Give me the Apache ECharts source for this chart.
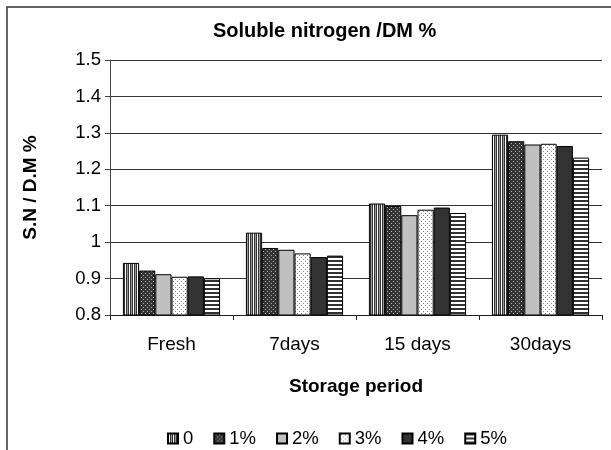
<!DOCTYPE html>
<html>
<head>
<meta charset="utf-8">
<script src="https://cdn.jsdelivr.net/npm/echarts@6/dist/echarts.min.js"></script>
<style>
  html, body { margin: 0; padding: 0; background: #fff; }
  #chart { width: 611px; height: 450px; }
</style>
</head>
<body>
<div id="chart"></div>
<script>
// Storage periods on the x axis
const categories = ['Fresh', '7days', '15 days', '30days'];
// Treatment levels (legend entries)
const seriesNames = ['0', '1%', '2%', '3%', '4%', '5%'];
// Soluble nitrogen / DM % for each treatment across the storage periods
const s0  = [0.943, 1.026, 1.106, 1.295];
const s1  = [0.922, 0.984, 1.099, 1.277];
const s2  = [0.912, 0.979, 1.074, 1.268];
const s3  = [0.905, 0.969, 1.089, 1.270];
const s4  = [0.906, 0.959, 1.095, 1.264];
const s5  = [0.901, 0.963, 1.080, 1.232];
const seriesValues = [s0, s1, s2, s3, s4, s5];
// Y axis scale
const yMin = 0.8, yMax = 1.5, yStep = 0.1;

// Fill patterns drawn on small canvases
function makePattern(kind) {
  const c = document.createElement('canvas');
  c.width = 4; c.height = 4;
  const g = c.getContext('2d');
  if (kind === 'vstripe') {
    g.fillStyle = '#ffffff'; g.fillRect(0, 0, 4, 4);
    g.fillStyle = '#333333'; g.fillRect(0, 0, 1, 4); g.fillRect(2, 0, 1, 4);
    g.fillStyle = '#999999'; g.fillRect(3, 0, 1, 4);
  } else if (kind === 'darkdots') {
    g.fillStyle = '#333333'; g.fillRect(0, 0, 4, 4);
    g.fillStyle = '#bbbbbb'; g.fillRect(1, 1, 1, 1); g.fillRect(3, 3, 1, 1);
  } else if (kind === 'gray') {
    g.fillStyle = '#c0c0c0'; g.fillRect(0, 0, 4, 4);
  } else if (kind === 'lightdots') {
    g.fillStyle = '#ffffff'; g.fillRect(0, 0, 4, 4);
    g.fillStyle = '#888888'; g.fillRect(1, 1, 1, 1); g.fillRect(3, 3, 1, 1);
  } else if (kind === 'dark') {
    g.fillStyle = '#333333'; g.fillRect(0, 0, 4, 4);
  } else if (kind === 'hstripe') {
    g.fillStyle = '#ffffff'; g.fillRect(0, 0, 4, 4);
    g.fillStyle = '#333333'; g.fillRect(0, 0, 4, 2);
  }
  return { image: c, repeat: 'repeat' };
}
const patternKinds = ['vstripe', 'darkdots', 'gray', 'lightdots', 'dark', 'hstripe'];

const font = 'Liberation Sans, Arial, sans-serif';

const chart = echarts.init(document.getElementById('chart'), null, { renderer: 'canvas' });

chart.setOption({
  backgroundColor: '#ffffff',
  animation: false,
  textStyle: { fontFamily: font },
  title: {
    text: 'Soluble nitrogen /DM %',
    left: 208,
    top: 16,
    textStyle: { fontFamily: font, fontSize: 20, fontWeight: 'bold', color: '#000' }
  },
  legend: {
    data: seriesNames,
    top: 424,
    left: 162,
    icon: 'rect',
    itemWidth: 10,
    itemHeight: 10,
    itemGap: 20,
    textStyle: { fontFamily: font, fontSize: 18.5, color: '#000' }
  },
  grid: { left: 110, right: 9, top: 60, bottom: 135 },
  xAxis: {
    type: 'category',
    data: categories,
    name: 'Storage period',
    nameLocation: 'middle',
    nameGap: 62,
    nameTextStyle: { fontFamily: font, fontSize: 19, fontWeight: 'bold', color: '#000' },
    axisLine: { lineStyle: { color: '#222', width: 1 } },
    axisTick: { show: true, length: 5, lineStyle: { color: '#222' } },
    axisLabel: { margin: 20, fontFamily: font, fontSize: 19, color: '#000' }
  },
  yAxis: {
    type: 'value',
    min: yMin,
    max: yMax,
    interval: yStep,
    name: 'S.N / D.M %',
    nameLocation: 'middle',
    nameGap: 70,
    nameTextStyle: { fontFamily: font, fontSize: 19, fontWeight: 'bold', color: '#000' },
    axisLine: { show: true, lineStyle: { color: '#444', width: 1 } },
    axisTick: { show: true, length: 5, lineStyle: { color: '#444' } },
    axisLabel: {
      margin: 9, fontFamily: font, fontSize: 18.5, color: '#000',
      formatter: v => String(Math.round(v * 10) / 10)
    },
    splitLine: { show: true, lineStyle: { color: '#333', width: 1 } }
  },
  series: seriesNames.map((name, i) => ({
    name: name,
    type: 'bar',
    data: seriesValues[i],
    barGap: '0%',
    barCategoryGap: '21%',
    itemStyle: {
      color: makePattern(patternKinds[i]),
      borderColor: '#000',
      borderWidth: 1
    }
  })),
  graphic: [{
    type: 'polyline',
    shape: { points: [[7, 450], [7, 7], [611, 7]] },
    style: { stroke: '#333', lineWidth: 1.5, fill: null },
    silent: true
  }]
});
</script>
</body>
</html>
